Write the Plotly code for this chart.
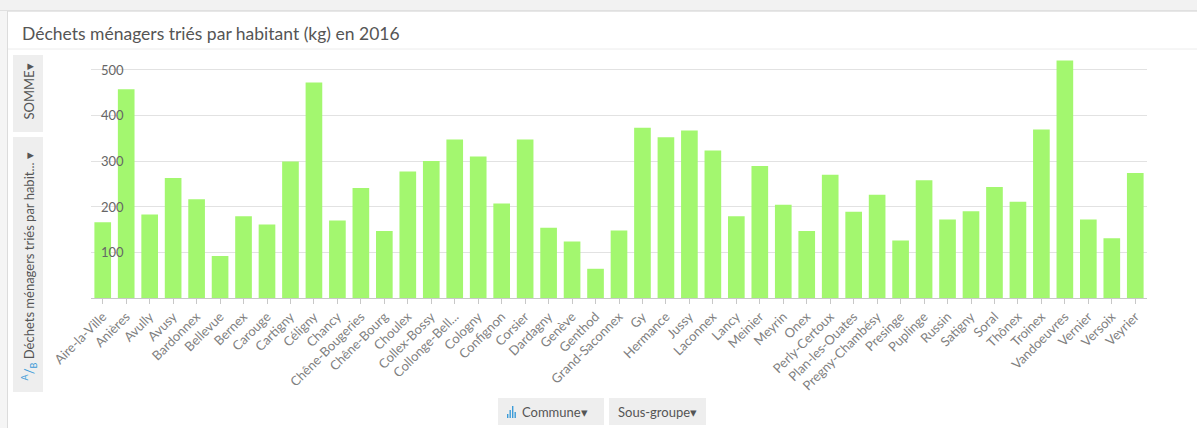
import plotly.graph_objects as go

# Sorted household waste per inhabitant (kg), Geneva communes, 2016
communes = [
    "Aire-la-Ville", "Anières", "Avully", "Avusy", "Bardonnex", "Bellevue", "Bernex",
    "Carouge", "Cartigny", "Céligny", "Chancy", "Chêne-Bougeries", "Chêne-Bourg",
    "Choulex", "Collex-Bossy", "Collonge-Bellerive", "Cologny", "Confignon", "Corsier",
    "Dardagny", "Genève", "Genthod", "Grand-Saconnex", "Gy", "Hermance", "Jussy",
    "Laconnex", "Lancy", "Meinier", "Meyrin", "Onex", "Perly-Certoux", "Plan-les-Ouates",
    "Pregny-Chambésy", "Presinge", "Puplinge", "Russin", "Satigny", "Soral", "Thônex",
    "Troinex", "Vandoeuvres", "Vernier", "Versoix", "Veyrier",
]
tick_labels = [c if c != "Collonge-Bellerive" else "Collonge-Bell..." for c in communes]
dechets_kg = [
    166, 457, 183, 263, 216, 92, 179,
    161, 299, 472, 170, 241, 147,
    277, 300, 347, 310, 207, 347,
    154, 124, 64, 148, 373, 352, 367,
    323, 179, 289, 204, 147, 270, 189,
    226, 126, 258, 172, 190, 243, 211,
    369, 520, 172, 131, 274,
]
y_ticks = [100, 200, 300, 400, 500]

TITLE = "Déchets ménagers triés par habitant (kg) en 2016"
FONT = "Lato, 'Open Sans', sans-serif"
BAR = "#a3f76f"

W, H = 1197, 428
ML, MR, MT, MB = 91, 50, 56, 130
PW, PH = W - ML - MR, H - MT - MB


def px(x):
    return (x - ML) / PW


def py(y):
    return (H - MB - y) / PH


def box(x0, y0, x1, y1, fill):
    return dict(type="rect", xref="paper", yref="paper",
                x0=px(x0), x1=px(x1), y0=py(y1), y1=py(y0),
                fillcolor=fill, line=dict(width=0), layer="below")


def hline(x0, x1, y, color):
    return dict(type="line", xref="paper", yref="paper",
                x0=px(x0), x1=px(x1), y0=py(y), y1=py(y),
                line=dict(color=color, width=1), layer="below")


def vline(x, y0, y1, color):
    return dict(type="line", xref="paper", yref="paper",
                x0=px(x), x1=px(x), y0=py(y0), y1=py(y1),
                line=dict(color=color, width=1), layer="below")


fig = go.Figure(go.Bar(
    x=communes, y=dechets_kg, marker=dict(color=BAR, line=dict(width=0)),
    hoverinfo="x+y",
))

shapes = [
    # window chrome: top strip, left margin, card border, title separator
    box(0, 0, W, 11, "#f2f2f2"),
    hline(0, W, 11, "#cfcfcf"),
    box(0, 11, 7, H, "#f5f5f5"),
    vline(7.5, 11, H, "#dcdcdc"),
    hline(8, W, 49, "#ececec"),
    # side buttons
    box(13, 55, 43, 132, "#eeeeee"),
    box(13, 137, 43, 392, "#eeeeee"),
    # bottom buttons
    box(498, 398, 604, 425, "#eeeeee"),
    box(609, 398, 706, 425, "#eeeeee"),
]

# small bar-chart glyph on the "Commune" button
for bx, top in [(507, 414), (509.5, 410), (512, 406), (514.5, 412)]:
    shapes.append(dict(type="rect", xref="paper", yref="paper",
                       x0=px(bx), x1=px(bx + 1.4), y0=py(418), y1=py(top),
                       fillcolor="#3b9bd8", line=dict(width=0), layer="above"))

# gap in each gridline behind its value label
for v in y_ticks:
    shapes.append(dict(type="rect", xref="paper", yref="y",
                       x0=px(97), x1=px(128), ysizemode="pixel", yanchor=v,
                       y0=-2, y1=2, fillcolor="white", line=dict(width=0),
                       layer="between"))

annotations = [
    dict(text=TITLE, xref="paper", yref="paper", x=px(20), y=py(33),
         xanchor="left", yanchor="middle", showarrow=False,
         font=dict(family=FONT, size=17.5, color="#555555")),
    dict(text="SOMME▾", xref="paper", yref="paper", x=px(28.5), y=py(92),
         xanchor="center", yanchor="middle", showarrow=False, textangle=-90,
         font=dict(family=FONT, size=13, color="#555555")),
    dict(text="<span style='color:#3b9bd8'><sup>A</sup>/<sub>B</sub></span> "
              "Déchets ménagers triés par habit... ▾",
         xref="paper", yref="paper", x=px(28.5), y=py(267),
         xanchor="center", yanchor="middle", showarrow=False, textangle=-90,
         font=dict(family=FONT, size=13, color="#555555")),
    dict(text="Commune▾", xref="paper", yref="paper", x=px(520), y=py(411.5),
         xanchor="left", yanchor="middle", showarrow=False,
         font=dict(family=FONT, size=13, color="#555555")),
    dict(text="Sous-groupe▾", xref="paper", yref="paper", x=px(657.5), y=py(411.5),
         xanchor="center", yanchor="middle", showarrow=False,
         font=dict(family=FONT, size=13, color="#555555")),
]

# value labels sit just inside the plot, on their gridlines, above the bars
for v in y_ticks:
    annotations.append(dict(
        text=str(v), xref="paper", yref="y", x=px(99), y=v,
        xanchor="left", yanchor="middle", showarrow=False,
        font=dict(family=FONT, size=13, color="#666666"),
    ))

fig.update_layout(
    width=W, height=H,
    margin=dict(l=ML, r=MR, t=MT, b=MB, pad=0),
    paper_bgcolor="white", plot_bgcolor="white",
    bargap=0.29,
    showlegend=False,
    font=dict(family=FONT, color="#666666", size=12),
    shapes=shapes,
    annotations=annotations,
    xaxis=dict(
        type="category", tickmode="array", tickvals=communes, ticktext=tick_labels,
        range=[-0.5, len(communes) - 0.5], autorange=False,
        tickangle=-45, ticks="outside", ticklen=5, tickcolor="#c8c8c8",
        showline=True, linecolor="#c8c8c8", linewidth=1,
        showgrid=False, zeroline=False,
        tickfont=dict(family=FONT, size=13, color="#808080"),
        fixedrange=True,
    ),
    yaxis=dict(
        range=[0, 530], autorange=False, tickmode="array", tickvals=y_ticks,
        showticklabels=False,
        showgrid=True, gridcolor="#e2e2e2", gridwidth=1,
        zeroline=False, showline=False, ticks="",
        fixedrange=True,
    ),
)

fig.write_html("out.html")
